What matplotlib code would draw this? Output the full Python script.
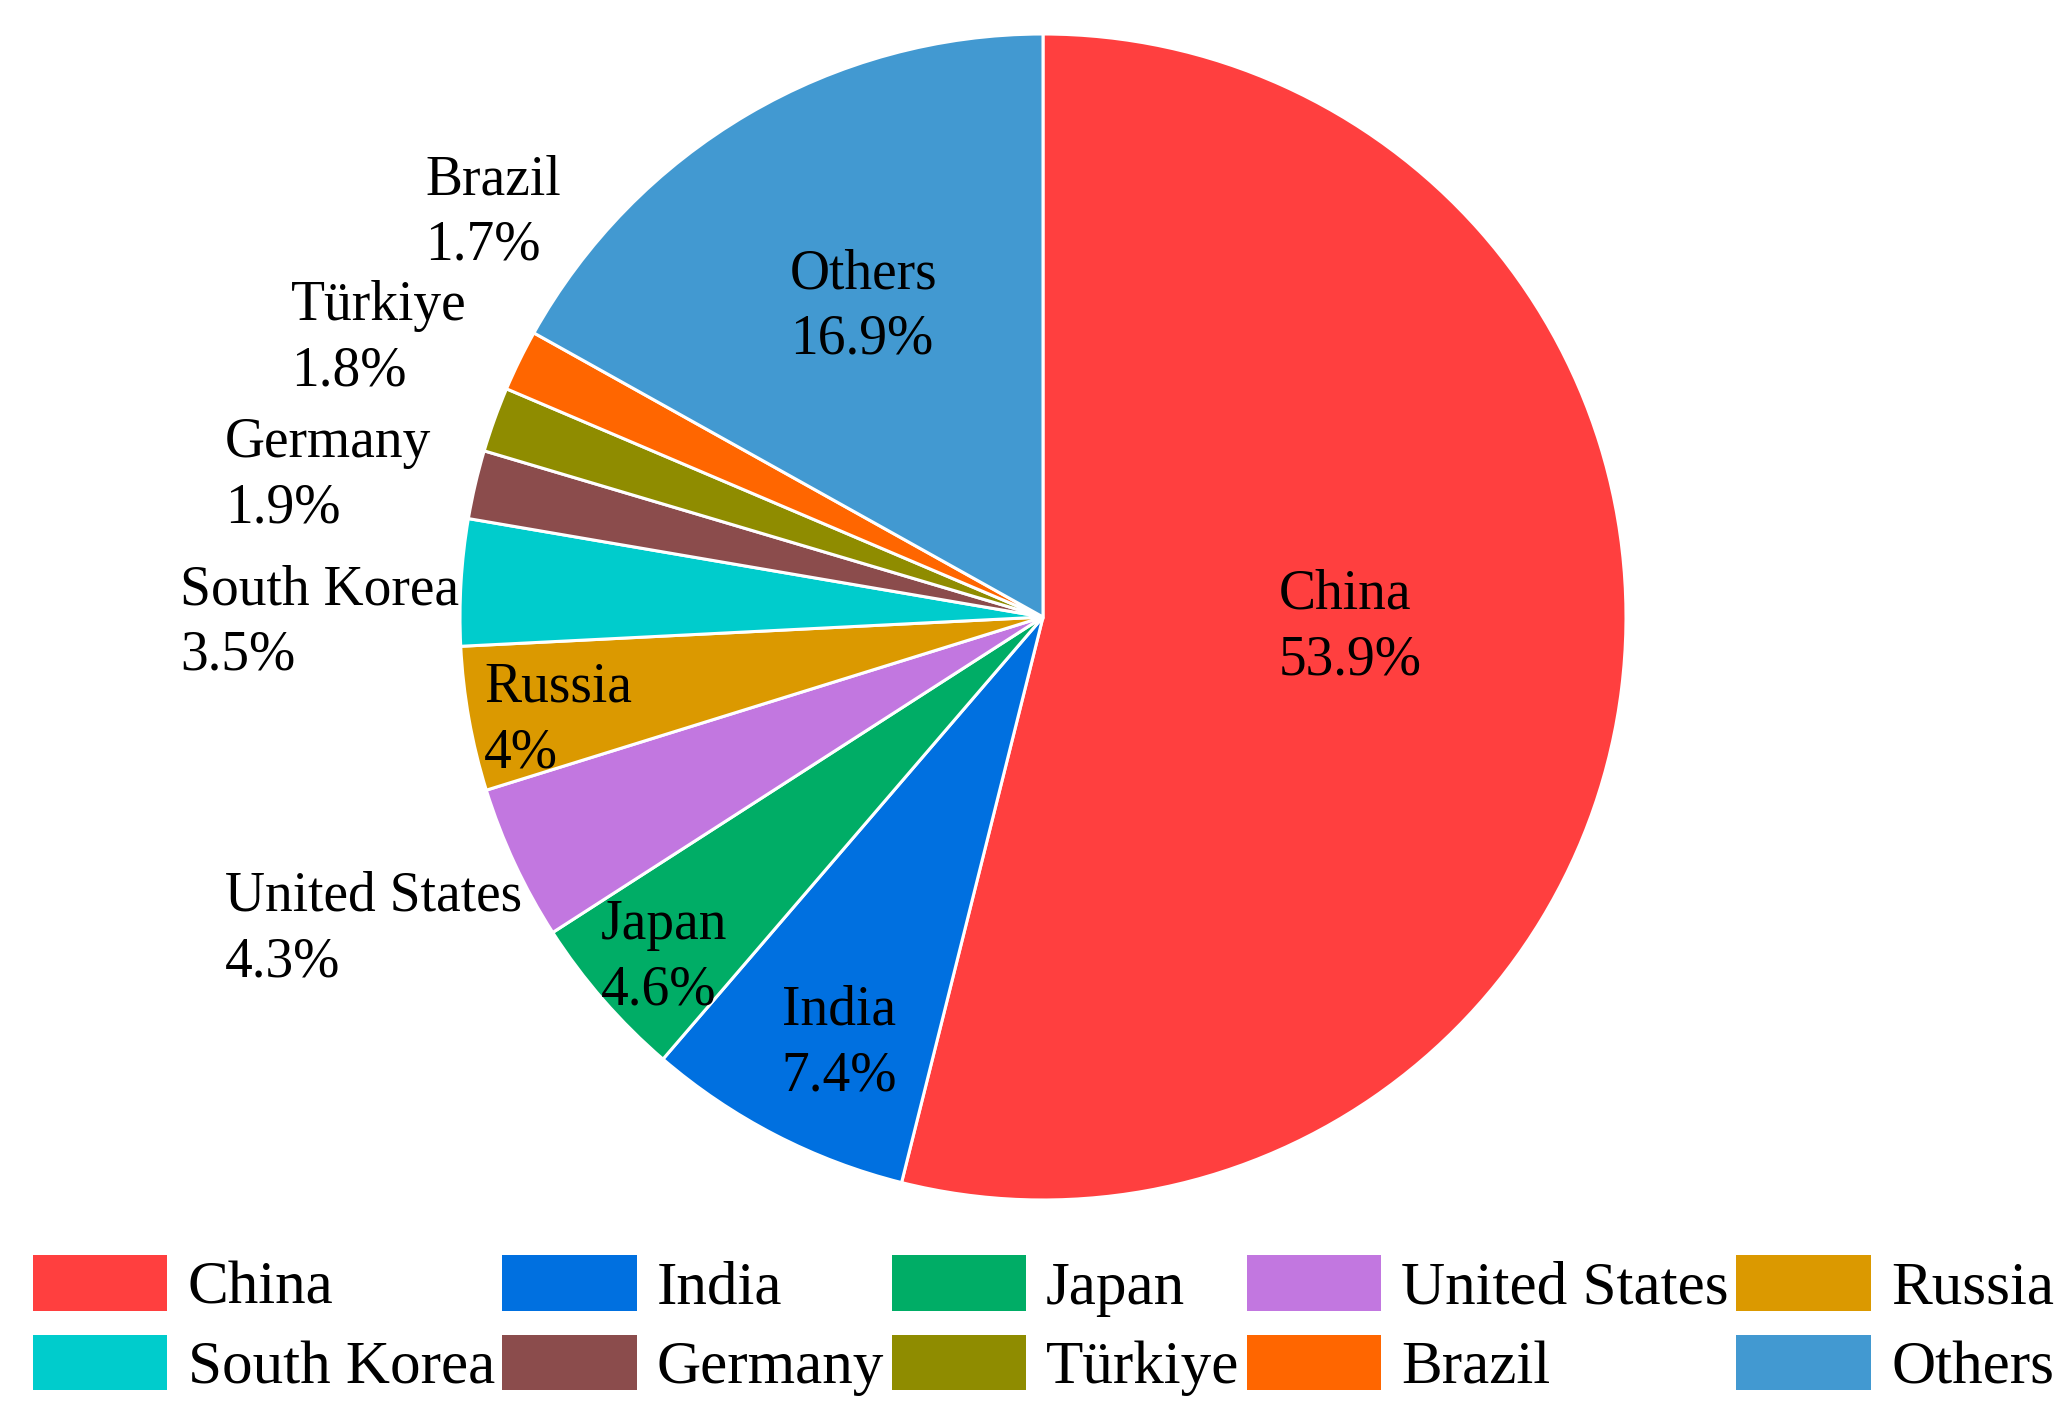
import matplotlib
matplotlib.use("Agg")
import matplotlib.pyplot as plt
from matplotlib.patches import Patch

# ---- data ----
countries = ["China", "India", "Japan", "United States", "Russia",
             "South Korea", "Germany", "Türkiye", "Brazil", "Others"]
shares = [53.9, 7.4, 4.6, 4.3, 4, 3.5, 1.9, 1.8, 1.7, 16.9]
colors = ["#FF3F3F", "#0070E0", "#00AD66", "#C277E0", "#DB9900",
          "#00CCCC", "#8B4C4C", "#8F8C00", "#FF6600", "#4299D1"]

# ---- layout (label anchor: left edge, vertical center, in pie data units) ----
label_pos = [(0.405, -0.018), (-0.448, -0.732), (-0.758, -0.585),
             (-1.403, -0.536), (-0.959, -0.178), (-1.480, -0.010),
             (-1.403, 0.242), (-1.290, 0.477), (-1.060, 0.693),
             (-0.434, 0.532)]

plt.rcParams["font.family"] = ["Liberation Serif", "DejaVu Serif"]

W, H = 2072, 1417
fig = plt.figure(figsize=(W / 100, H / 100), dpi=100)
cx, cy, r = 1043, 617, 583
ax = fig.add_axes([(cx - r) / W, (H - cy - r) / H, 2 * r / W, 2 * r / H])

wedges, _ = ax.pie(shares, colors=colors, startangle=90, counterclock=False,
                   radius=1.0,
                   wedgeprops=dict(edgecolor="white", linewidth=2.2))
ax.set_xlim(-1, 1)
ax.set_ylim(-1, 1)
ax.set_aspect("equal")
ax.axis("off")

for name, val, (x, y) in zip(countries, shares, label_pos):
    ax.text(x, y, f"{name}\n{val:g}%", ha="left", va="center",
            fontsize=40, color="black", linespacing=1.34, clip_on=False)

handles = [Patch(facecolor=c, edgecolor="none") for c in colors]
order = [0, 5, 1, 6, 2, 7, 3, 8, 4, 9]
fig.legend([handles[i] for i in order], [countries[i] for i in order],
           ncol=5, loc="upper left", bbox_to_anchor=(33 / W, 1 - 1255 / H),
           frameon=False, fontsize=44, handlelength=2.2, handleheight=1.03,
           handletextpad=0.33, columnspacing=0.12, labelspacing=0.29,
           borderpad=0, borderaxespad=0)

fig.savefig("out.png", dpi=100, facecolor="white")
